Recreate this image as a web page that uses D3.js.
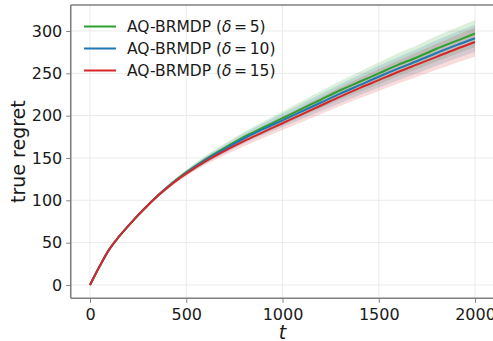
<!DOCTYPE html>
<html>
<head>
<meta charset="utf-8">
<script src="https://cdn.jsdelivr.net/npm/d3@7"></script>
<style>
  body { margin: 0; background: #fff; }
  svg { display: block; font-family: "DejaVu Sans", sans-serif; }
</style>
</head>
<body>
<svg id="chart" width="493" height="341"></svg>
<script>
// time steps
const tValues = [0, 50, 100, 150, 200, 250, 300, 350, 400, 450, 500, 600, 700, 800, 900, 1000, 1100, 1200, 1300, 1400, 1500, 1600, 1700, 1800, 1900, 2000];

// mean regret per series
const green5 = [0, 22, 42, 57, 70, 82.5, 94, 105, 115, 124.5, 133, 148.5, 162, 175, 186, 197, 208, 219, 230, 240, 250, 260, 269, 279, 288, 297];
const blue10 = [0, 22, 42, 57, 70, 82.5, 94, 105, 115, 124, 132.5, 147.5, 160.5, 173, 184, 194.5, 205, 215.5, 226, 236, 246, 255.5, 264.5, 274, 283, 291.5];
const red15 = [0, 22, 42, 57, 70, 82.5, 94, 105, 114.5, 123.5, 131.5, 146, 158.5, 170, 180.5, 191, 201.5, 212, 222.5, 232.5, 242, 251.5, 260.5, 269.5, 278.5, 287];

// half-width of the shaded band per series
const green5Spread = [0, 0.3, 0.6, 0.8, 1, 1.3, 1.6, 1.9, 2.2, 2.6, 3, 4, 5, 6, 7, 8, 9, 10, 11, 12, 12.8, 13.6, 14.3, 15, 15.6, 16];
const blue10Spread = [0, 0.3, 0.6, 0.8, 1, 1.3, 1.6, 1.9, 2.2, 2.6, 3, 4, 5, 6, 7, 8, 9, 10, 11, 12, 12.8, 13.6, 14.3, 15, 15.6, 16];
const red15Spread = [0, 0.3, 0.6, 0.8, 1, 1.3, 1.6, 1.9, 2.2, 2.6, 3, 4, 5, 6, 7, 8, 9, 10, 11, 12, 12.8, 13.6, 14.5, 15.3, 16.2, 17];

const xTicks = [0, 500, 1000, 1500, 2000];
const yTicks = [0, 50, 100, 150, 200, 250, 300];

const seriesNames = ["5", "10", "15"];
const seriesColors = ["#2ca02c", "#1f77b4", "#d62728"];

const series = [
  { name: seriesNames[0], color: seriesColors[0], mean: green5, spread: green5Spread },
  { name: seriesNames[1], color: seriesColors[1], mean: blue10, spread: blue10Spread },
  { name: seriesNames[2], color: seriesColors[2], mean: red15, spread: red15Spread }
];

const svg = d3.select("#chart");

const x = d3.scaleLinear().domain([-100, 2100]).range([70.75, 494.25]);
const y = d3.scaleLinear().domain([-15.75, 330.75]).range([298.3, 4.96]);

const plotLeft = x(-100), plotRight = x(2100), plotTop = y(330.75), plotBottom = y(-15.75);

// grid
svg.append("g")
  .selectAll("line")
  .data(xTicks)
  .enter().append("line")
  .attr("x1", (d) => x(d)).attr("x2", (d) => x(d))
  .attr("y1", plotTop).attr("y2", plotBottom)
  .attr("stroke", "#ebebeb").attr("stroke-width", 1);

svg.append("g")
  .selectAll("line")
  .data(yTicks)
  .enter().append("line")
  .attr("x1", plotLeft).attr("x2", plotRight)
  .attr("y1", (d) => y(d)).attr("y2", (d) => y(d))
  .attr("stroke", "#ebebeb").attr("stroke-width", 1);

// bands
const area = d3.area()
  .x((d, i) => x(tValues[i]))
  .y0((d) => y(d[0]))
  .y1((d) => y(d[1]))
  .curve(d3.curveMonotoneX);

series.forEach((s) => {
  const pts = s.mean.map((m, i) => [m - s.spread[i], m + s.spread[i]]);
  svg.append("path")
    .attr("d", area(pts))
    .attr("fill", s.color)
    .attr("fill-opacity", 0.17)
    .attr("stroke", "none");
});

// lines
const line = d3.line()
  .x((d, i) => x(tValues[i]))
  .y((d) => y(d))
  .curve(d3.curveMonotoneX);

series.forEach((s) => {
  svg.append("path")
    .attr("d", line(s.mean))
    .attr("fill", "none")
    .attr("stroke", s.color)
    .attr("stroke-width", 2);
});

// axes
const xAxis = svg.append("g")
  .attr("transform", `translate(0,${plotBottom})`)
  .call(d3.axisBottom(x).tickValues(xTicks).tickSize(4.5).tickPadding(3).tickFormat(d3.format("d")));
const yAxis = svg.append("g")
  .attr("transform", `translate(${plotLeft},0)`)
  .call(d3.axisLeft(y).tickValues(yTicks).tickSize(4.5).tickPadding(4).tickFormat(d3.format("d")));

[xAxis, yAxis].forEach((ax) => {
  ax.select(".domain").remove();
  ax.selectAll(".tick line").attr("stroke", "#808080").attr("stroke-width", 1);
  ax.selectAll(".tick text")
    .attr("fill", "#1a1a1a")
    .style("font-size", "16px")
    .style("font-family", "DejaVu Sans");
});
xAxis.selectAll(".tick text").attr("dy", "0.9em");

// spines
svg.append("line").attr("x1", plotLeft).attr("x2", plotLeft).attr("y1", plotTop).attr("y2", plotBottom)
  .attr("stroke", "#808080").attr("stroke-width", 1.6);
svg.append("line").attr("x1", plotLeft).attr("x2", plotRight).attr("y1", plotBottom).attr("y2", plotBottom)
  .attr("stroke", "#808080").attr("stroke-width", 1.6);
svg.append("line").attr("x1", plotLeft).attr("x2", plotRight).attr("y1", plotTop).attr("y2", plotTop)
  .attr("stroke", "#808080").attr("stroke-width", 1.6);
svg.append("line").attr("x1", plotRight).attr("x2", plotRight).attr("y1", plotTop).attr("y2", plotBottom)
  .attr("stroke", "#808080").attr("stroke-width", 1.6);

// axis labels
svg.append("text")
  .attr("x", x(1000))
  .attr("y", 339)
  .attr("text-anchor", "middle")
  .style("font-size", "19px")
  .style("font-style", "italic")
  .attr("fill", "#1a1a1a")
  .text("t");

svg.append("text")
  .attr("transform", `translate(25,${(plotTop + plotBottom) / 2}) rotate(-90)`)
  .attr("text-anchor", "middle")
  .style("font-size", "19px")
  .attr("fill", "#1a1a1a")
  .text("true regret");

// legend
const legend = svg.append("g");
series.forEach((s, i) => {
  const ly = 26.5 + i * 22;
  legend.append("line")
    .attr("x1", 84).attr("x2", 116)
    .attr("y1", ly).attr("y2", ly)
    .attr("stroke", s.color).attr("stroke-width", 2);
  const txt = legend.append("text")
    .attr("x", 127)
    .attr("y", ly + 5.5)
    .style("font-size", "15.5px")
    .attr("fill", "#1a1a1a");
  txt.append("tspan").text("AQ-BRMDP (");
  txt.append("tspan").style("font-style", "italic").text("δ");
  txt.append("tspan").text("\u2006=\u2006" + s.name + ")");
});
</script>
</body>
</html>
